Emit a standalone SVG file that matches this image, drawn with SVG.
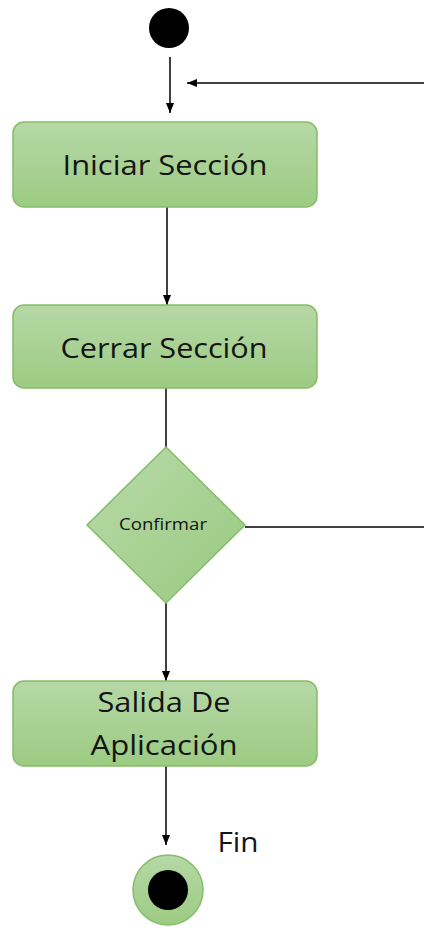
<svg xmlns="http://www.w3.org/2000/svg" width="424" height="928" viewBox="0 0 424 928">
<defs>
<linearGradient id="gv" x1="0" y1="0" x2="0" y2="1">
<stop offset="0" stop-color="#b6d8a6"/>
<stop offset="1" stop-color="#9ccb83"/>
</linearGradient>
<linearGradient id="gd" x1="0" y1="0" x2="1" y2="1">
<stop offset="0" stop-color="#b9daa9"/>
<stop offset="1" stop-color="#98c97f"/>
</linearGradient>
<marker id="arr" viewBox="0 0 10 10" refX="10" refY="5" markerWidth="10" markerHeight="10" markerUnits="userSpaceOnUse" orient="auto">
<path d="M0,1 L10,5 L0,9 z" fill="#000"/>
</marker>
<style>
.box{fill:url(#gv);stroke:#85bd68;stroke-width:1.5}
.dia{fill:url(#gd);stroke:#85bd68;stroke-width:1.5}
.lbl{font-family:"Open Sans","DejaVu Sans",sans-serif;font-size:27px;fill:#141414;text-anchor:middle}
.small{font-family:"Open Sans","DejaVu Sans",sans-serif;font-size:17px;fill:#141414;text-anchor:middle}
.con{fill:none;stroke:#000;stroke-width:1.5}
</style>
</defs>
<g id="connectors">
<line class="con" x1="170" y1="57" x2="170" y2="113" marker-end="url(#arr)"/>
<line class="con" x1="424" y1="83" x2="187" y2="83" marker-end="url(#arr)"/>
<line class="con" x1="167" y1="207" x2="167" y2="305" marker-end="url(#arr)"/>
<line class="con" x1="166" y1="388" x2="166" y2="447"/>
<line class="con" x1="245" y1="527" x2="424" y2="527"/>
<line class="con" x1="166" y1="603" x2="166" y2="681" marker-end="url(#arr)"/>
<line class="con" x1="166" y1="766" x2="166" y2="845" marker-end="url(#arr)"/>
</g>
<g id="start">
<circle cx="169" cy="28" r="20" fill="#000"/>
</g>
<g id="iniciar">
<rect class="box" x="13" y="122" width="304" height="85" rx="11"/>
<text class="lbl" x="165" y="175" textLength="205" lengthAdjust="spacingAndGlyphs">Iniciar Sección</text>
</g>
<g id="cerrar">
<rect class="box" x="13" y="305" width="304" height="83" rx="11"/>
<text class="lbl" x="164" y="358" textLength="207" lengthAdjust="spacingAndGlyphs">Cerrar Sección</text>
</g>
<g id="confirmar">
<polygon class="dia" points="166,447 245,525 166,603 87,525"/>
<text class="small" x="163" y="530" textLength="88" lengthAdjust="spacingAndGlyphs">Confirmar</text>
</g>
<g id="salida">
<rect class="box" x="13" y="681" width="304" height="85" rx="11"/>
<text class="lbl" x="164" y="712" textLength="133" lengthAdjust="spacingAndGlyphs">Salida De</text>
<text class="lbl" x="164" y="755" textLength="147" lengthAdjust="spacingAndGlyphs">Aplicación</text>
</g>
<g id="fin">
<circle cx="168" cy="890" r="35" fill="url(#gv)" stroke="#85bd68" stroke-width="1.5"/>
<circle cx="168" cy="890" r="20" fill="#000"/>
<text class="lbl" x="238" y="852" textLength="41" lengthAdjust="spacingAndGlyphs">Fin</text>
</g>
</svg>
